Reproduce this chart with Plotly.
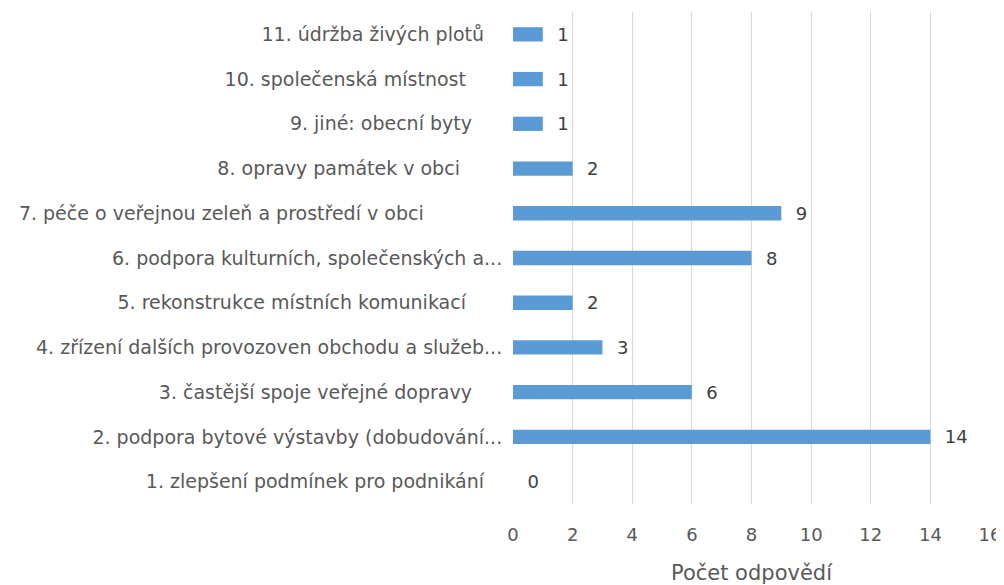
import plotly.graph_objects as go

NB = "\u00a0"

categories = [
    "1. zlepšení podmínek pro podnikání" + NB * 3,
    "2. podpora bytové výstavby (dobudování...",
    "3. častější spoje veřejné dopravy" + NB * 5,
    "4. zřízení dalších provozoven obchodu a služeb...",
    "5. rekonstrukce místních komunikací" + NB * 6,
    "6. podpora kulturních, společenských a...",
    "7. péče o veřejnou zeleň a prostředí v obci" + NB * 13,
    "8. opravy památek v obci" + NB * 7,
    "9. jiné: obecní byty" + NB * 5,
    "10. společenská místnost" + NB * 6,
    "11. údržba živých plotů" + NB * 3,
]
values = [0, 14, 6, 3, 2, 8, 9, 2, 1, 1, 1]
x_ticks = [0, 2, 4, 6, 8, 10, 12, 14, 16]
x_title = "Počet odpovědí"

TEXT = "#595959"
FONT = "DejaVu Sans"

fig = go.Figure(
    go.Bar(
        x=values,
        y=categories,
        orientation="h",
        marker=dict(color="#5B9BD5", line=dict(width=0)),
        text=values,
        texttemplate=NB * 2 + "%{x}",
        textposition="outside",
        constraintext="none",
        cliponaxis=False,
        textfont=dict(family=FONT, size=18, color="#404040"),
    )
)

# page body has an 8px margin; the figure is sized/offset to compensate
fig.update_layout(
    width=996,
    height=577,
    margin=dict(l=505, r=14, t=4, b=81),
    paper_bgcolor="white",
    plot_bgcolor="white",
    bargap=0.68,
    showlegend=False,
    font=dict(family=FONT, size=18, color=TEXT),
    xaxis=dict(
        range=[0, 16],
        tickvals=x_ticks,
        ticktext=[str(t) for t in x_ticks],
        showgrid=True,
        gridcolor="#D9D9D9",
        gridwidth=1,
        zeroline=False,
        showline=False,
        ticks="outside",
        ticklen=14,
        tickcolor="rgba(0,0,0,0)",
        tickfont=dict(family=FONT, size=18, color=TEXT),
        title=dict(text=x_title, font=dict(family=FONT, size=21, color=TEXT), standoff=23),
        automargin=False,
        fixedrange=True,
    ),
    yaxis=dict(
        type="category",
        showgrid=False,
        zeroline=False,
        showline=False,
        ticks="outside",
        ticklen=6,
        tickcolor="rgba(0,0,0,0)",
        tickfont=dict(family=FONT, size=19, color=TEXT),
        automargin=False,
        fixedrange=True,
    ),
)

fig.write_html("out.html")
